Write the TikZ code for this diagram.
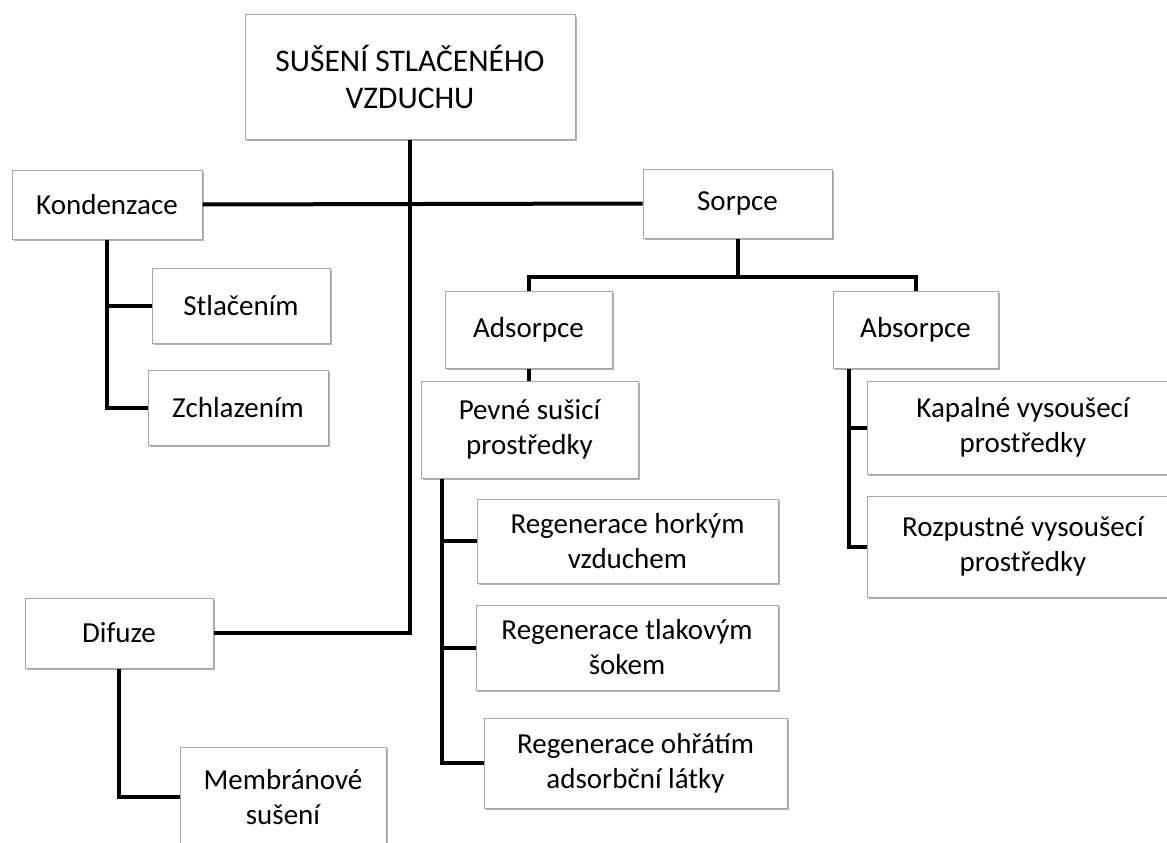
\documentclass[tikz,border=0pt]{standalone}
\usepackage{fontspec}
\setmainfont{Carlito}
\usetikzlibrary{shadows}

\begin{document}
\begin{tikzpicture}[x=1pt, y=-1pt,
  box/.style={draw=gray!70, line width=1pt, fill=white, align=center, inner sep=0pt,
    font=\fontsize{29}{35}\selectfont,
    drop shadow={shadow xshift=1.5pt, shadow yshift=-2pt, fill=black, opacity=.3}},
  link/.style={line width=4pt}]
  \useasboundingbox (0,0) rectangle (1167,843);
  \fill[white] (0,0) rectangle (1167,843);

  % top
  \node[box, font=\fontsize{31.5}{37}\selectfont, minimum width=330pt, minimum height=124pt] (title) at (410,77) {SUŠENÍ STLAČENÉHO\\VZDUCHU};

  % main branches
  \node[box, minimum width=190pt, minimum height=69pt] (kond) at (107,204.5) {Kondenzace};
  \node[box, minimum width=189pt, minimum height=69pt] (sorp) at (737.5,203.5) {Sorpce};
  \node[box, minimum width=188pt, minimum height=70pt] (dif) at (119,633) {Difuze};

  % kondenzace
  \node[box, minimum width=178pt, minimum height=75pt] (stlac) at (241,305.5) {Stlačením};
  \node[box, minimum width=180pt, minimum height=75pt] (zchl) at (238,407.5) {Zchlazením};

  % sorpce
  \node[box, minimum width=167pt, minimum height=77pt] (ads) at (528.5,329.5) {Adsorpce};
  \node[box, minimum width=165pt, minimum height=77pt] (abs) at (915.5,329.5) {Absorpce};
  \node[box, minimum width=217pt, minimum height=97pt] (pev) at (529.5,429.5) {Pevné sušicí\\prostředky};
  \node[box, minimum width=301pt, minimum height=84pt] (reg1) at (627.5,541) {Regenerace horkým\\vzduchem};
  \node[box, minimum width=302pt, minimum height=85pt] (reg2) at (627,647.5) {Regenerace tlakovým\\šokem};
  \node[box, minimum width=303pt, minimum height=90pt] (reg3) at (635.5,763) {Regenerace ohřátím\\adsorbční látky};
  \node[box, minimum width=312pt, minimum height=93pt] (kap) at (1023,427.5) {Kapalné vysoušecí\\prostředky};
  \node[box, minimum width=312pt, minimum height=101pt] (rozp) at (1023,546.5) {Rozpustné vysoušecí\\prostředky};

  % difuze
  \node[box, minimum width=206pt, minimum height=100pt] (memb) at (283,797) {Membránové\\sušení};

  % connectors
  \draw[link] (title.south) |- (dif.east);
  \draw[link] (kond.east) -- (sorp.west);
  \draw[link] (kond.south) |- (stlac.west);
  \draw[link] (kond.south) |- (zchl.west);
  \coordinate (sorpbus) at ([yshift=-38pt]sorp.south);
  \draw[link] (sorp.south) -- (sorpbus);
  \draw[link] (ads.north) |- (sorpbus) -| (abs.north);
  \draw[link] (ads.south) -- (ads.south |- pev.north);
  \draw[link] ([xshift=21pt]pev.south west) |- (reg1.west);
  \draw[link] ([xshift=21pt]pev.south west) |- (reg2.west);
  \draw[link] ([xshift=21pt]pev.south west) |- (reg3.west);
  \draw[link] ([xshift=16pt]abs.south west) |- (kap.west);
  \draw[link] ([xshift=16pt]abs.south west) |- (rozp.west);
  \draw[link] (dif.south) |- (memb.west);
\end{tikzpicture}
\end{document}
